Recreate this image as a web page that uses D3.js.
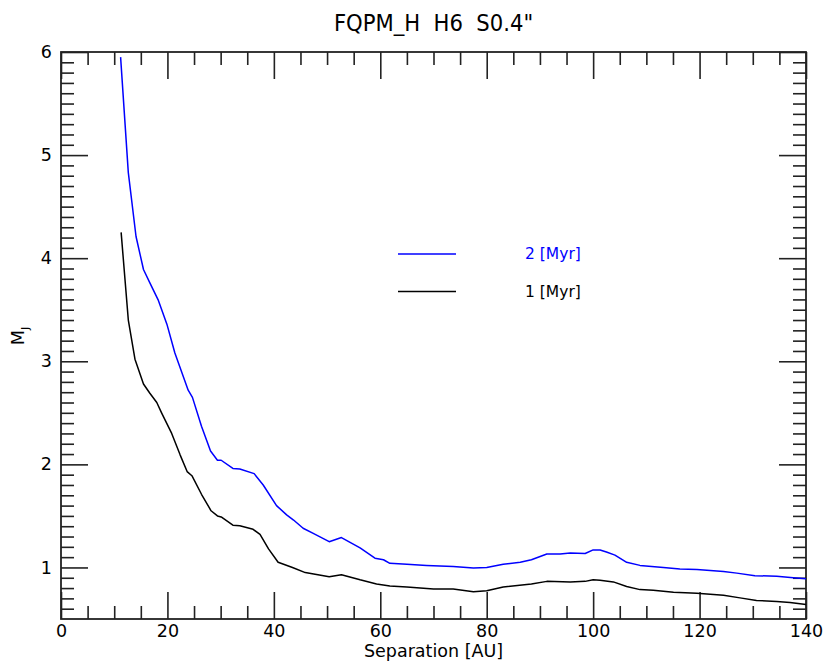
<!DOCTYPE html>
<html>
<head>
<meta charset="utf-8">
<script src="https://cdn.jsdelivr.net/npm/d3@7"></script>
<style>
  body { margin: 0; background: #fff; }
  svg { font-family: "DejaVu Sans", sans-serif; }
  .axis path { display: none; }
  .axis line { stroke: #222; stroke-width: 1.6px; }
  .axis text { font-size: 17.5px; fill: #000; font-family: "DejaVu Sans", sans-serif; }
</style>
</head>
<body>
<div id="chart"></div>
<script>
// 2 Myr curve (blue)
const sep2 = [11.2, 12.65, 14.1, 15.5, 16.7, 18.3, 19.9, 21.4, 23.9, 24.7, 26.4, 28.1, 29.4, 30.1,
  32.3, 33.6, 36.3, 38.0, 40.5, 42.4, 43.7, 45.5, 47.4, 50.4, 52.7, 56.2, 59.0, 60.6, 61.8,
  65.0, 68.7, 73.7, 77.5, 80.0, 83.1, 86.3, 88.4, 91.3, 93.8, 95.7, 98.5, 100.0, 101.3, 102.5,
  104.1, 106.3, 108.8, 113.2, 116.3, 119.5, 124.5, 127.0, 130.4, 134.5, 137.6, 140.0];
const mass2 = [5.95, 4.83, 4.21, 3.89, 3.76, 3.59, 3.36, 3.08, 2.72, 2.65, 2.37, 2.13, 2.04, 2.04,
  1.96, 1.955, 1.91, 1.80, 1.60, 1.51, 1.46, 1.38, 1.33, 1.25, 1.29, 1.19, 1.09, 1.075, 1.04,
  1.03, 1.02, 1.01, 0.995, 1.00, 1.03, 1.05, 1.075, 1.13, 1.13, 1.14, 1.135, 1.17, 1.17, 1.15,
  1.12, 1.05, 1.02, 1.00, 0.985, 0.98, 0.96, 0.945, 0.92, 0.915, 0.90, 0.89];

// 1 Myr curve (black)
const sep1 = [11.3, 12.65, 13.9, 15.5, 16.7, 18.0, 18.9, 20.8, 22.4, 23.7, 24.6, 26.4, 28.2, 29.4,
  30.1, 32.3, 33.6, 36.1, 37.4, 39.0, 40.8, 43.5, 45.9, 50.4, 52.7, 56.2, 59.3, 61.8, 65.0,
  70.0, 73.7, 77.5, 80.0, 83.1, 88.4, 91.3, 95.7, 98.5, 100.0, 101.3, 103.8, 106.3, 108.8,
  111.3, 115.1, 119.5, 124.5, 127.6, 130.7, 134.5, 137.0, 140.0];
const mass1 = [4.25, 3.40, 3.02, 2.78, 2.69, 2.60, 2.50, 2.30, 2.09, 1.93, 1.89, 1.71, 1.55, 1.50,
  1.49, 1.41, 1.405, 1.37, 1.32, 1.18, 1.05, 1.00, 0.95, 0.91, 0.93, 0.88, 0.84, 0.82, 0.81,
  0.79, 0.79, 0.765, 0.775, 0.81, 0.84, 0.865, 0.86, 0.865, 0.88, 0.875, 0.86, 0.815, 0.785,
  0.78, 0.76, 0.75, 0.73, 0.705, 0.68, 0.67, 0.66, 0.64];

const xMajor = [0, 20, 40, 60, 80, 100, 120, 140];
const yMajor = [1, 2, 3, 4, 5, 6];
const seriesNames = ["2 [Myr]", "1 [Myr]"];
const seriesColors = ["#0000ff", "#000000"];
const titleText = "FQPM_H  H6  S0.4\"";

const W = 827, H = 665;
const margin = { top: 52, right: 21, bottom: 46, left: 61 };
const width = W - margin.left - margin.right;
const height = H - margin.top - margin.bottom;

const svg = d3.select("#chart").append("svg")
  .attr("width", W)
  .attr("height", H);

const g = svg.append("g")
  .attr("transform", `translate(${margin.left},${margin.top})`);

const x = d3.scaleLinear().domain([0, 140]).range([0, width]);
const y = d3.scaleLinear().domain([0.5, 6]).range([height, 0]);

const xMinor = d3.range(0, 141, 5).filter(d => d % 20 !== 0);
const yMinor = d3.range(6, 60).map(d => d / 10).filter(d => Math.abs(d - Math.round(d)) > 1e-6);

// bottom axis
g.append("g").attr("class", "axis")
  .attr("transform", `translate(0,${height})`)
  .call(d3.axisBottom(x).tickValues(xMajor).tickSize(-27).tickPadding(6).tickFormat(d3.format("d")));
g.append("g").attr("class", "axis")
  .attr("transform", `translate(0,${height})`)
  .call(d3.axisBottom(x).tickValues(xMinor).tickSize(-13).tickFormat(""));
// top axis
g.append("g").attr("class", "axis")
  .call(d3.axisTop(x).tickValues(xMajor).tickSize(-27).tickFormat(""));
g.append("g").attr("class", "axis")
  .call(d3.axisTop(x).tickValues(xMinor).tickSize(-13).tickFormat(""));
// left axis
g.append("g").attr("class", "axis")
  .call(d3.axisLeft(y).tickValues(yMajor).tickSize(-27).tickPadding(9).tickFormat(d3.format("d")));
g.append("g").attr("class", "axis")
  .call(d3.axisLeft(y).tickValues(yMinor).tickSize(-13).tickFormat(""));
// right axis
g.append("g").attr("class", "axis")
  .attr("transform", `translate(${width},0)`)
  .call(d3.axisRight(y).tickValues(yMajor).tickSize(-27).tickFormat(""));
g.append("g").attr("class", "axis")
  .attr("transform", `translate(${width},0)`)
  .call(d3.axisRight(y).tickValues(yMinor).tickSize(-13).tickFormat(""));

// frame
g.append("rect")
  .attr("width", width)
  .attr("height", height)
  .attr("fill", "none")
  .attr("stroke", "#222")
  .attr("stroke-width", 1.8);

// curves
const line = d3.line()
  .x(d => x(d[0]))
  .y(d => y(d[1]));

const series = [
  d3.zip(sep2, mass2),
  d3.zip(sep1, mass1)
];

g.selectAll(".curve")
  .data(series)
  .join("path")
  .attr("class", "curve")
  .attr("fill", "none")
  .attr("stroke", (d, i) => seriesColors[i])
  .attr("stroke-width", 1.5)
  .attr("stroke-linejoin", "round")
  .attr("d", line);

// legend
const legend = svg.append("g")
  .selectAll("g")
  .data(seriesNames)
  .join("g")
  .attr("transform", (d, i) => `translate(398,${254 + i * 37.5})`);

legend.append("line")
  .attr("x1", 0).attr("x2", 58)
  .attr("stroke", (d, i) => seriesColors[i])
  .attr("stroke-width", 1.5);

legend.append("text")
  .attr("x", 127)
  .attr("dy", "0.35em")
  .attr("font-size", 15.5)
  .attr("fill", (d, i) => seriesColors[i])
  .text(d => d);

// title
svg.append("text")
  .attr("x", margin.left + width / 2)
  .attr("y", 31)
  .attr("text-anchor", "middle")
  .attr("font-family", "'DejaVu Sans Condensed', 'DejaVu Sans', sans-serif")
  .style("font-stretch", "condensed")
  .style("white-space", "pre")
  .attr("font-size", 23.5)
  .text(titleText);

// axis titles
svg.append("text")
  .attr("x", margin.left + width / 2)
  .attr("y", 657)
  .attr("text-anchor", "middle")
  .attr("font-size", 17.5)
  .text("Separation [AU]");

const ylab = svg.append("text")
  .attr("transform", "translate(24,336) rotate(-90)")
  .attr("text-anchor", "middle")
  .attr("font-size", 17.5);
ylab.append("tspan").text("M");
ylab.append("tspan").attr("font-size", 11).attr("dy", 5).text("J");
</script>
</body>
</html>
